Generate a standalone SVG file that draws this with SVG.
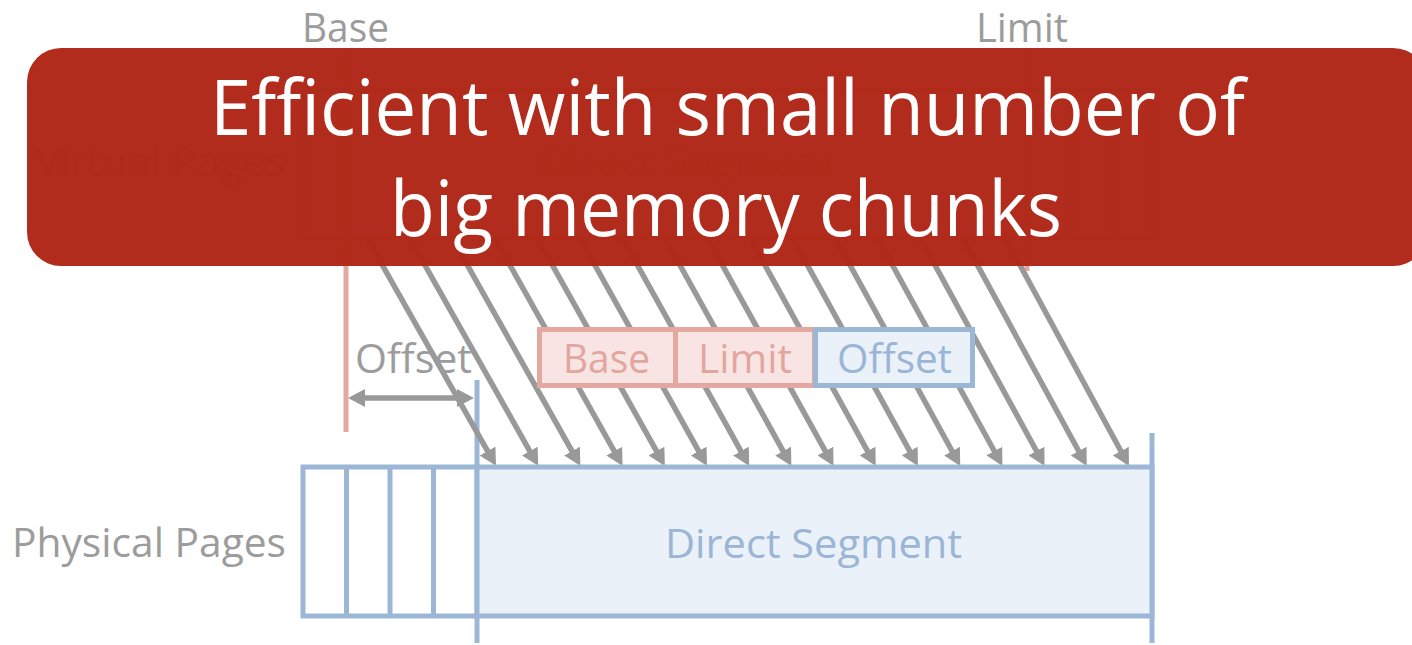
<svg xmlns="http://www.w3.org/2000/svg" width="1412" height="645" viewBox="0 0 1412 645">
  <style>
    text { font-family: "Open Sans", "Liberation Sans", sans-serif; }
    .lbl { fill: #9c9c9c; font-size: 40px; }
    .pinkTxt { fill: #e3a69f; font-size: 40px; }
    .blueTxt { fill: #9ab5d6; font-size: 40px; }
    .blue { stroke: #9cb7d6; stroke-width: 5; }
    .pink { stroke: #e4a8a1; stroke-width: 5; }
    .cell { fill: #ffffff; }
    .segBlue { fill: #eaf1f8; }
    .segPink { fill: #f8e4e3; }
    .map { stroke: #999999; stroke-width: 5.5; fill: none; marker-end: url(#head); }
    .banner { fill: #af2717; fill-opacity: 0.978; }
    .bannerTxt { fill: #ffffff; font-size: 76px; }
  </style>
  <defs>
    <marker id="head" markerUnits="userSpaceOnUse" markerWidth="18" markerHeight="18" refX="2" refY="9" orient="auto-start-reverse">
      <path d="M0,0 L17,9 L0,18 z" fill="#999999"/>
    </marker>
  </defs>

  <rect width="1412" height="645" fill="#ffffff"/>

  <!-- boundary labels -->
  <g id="base-label">
    <text class="lbl" x="302" y="42" textLength="87" lengthAdjust="spacingAndGlyphs">Base</text>
  </g>
  <g id="limit-label">
    <text class="lbl" x="976" y="42" textLength="92" lengthAdjust="spacingAndGlyphs">Limit</text>
  </g>

  <!-- virtual address space -->
  <g id="virtual-pages">
    <text class="lbl" x="35" y="176" textLength="250" lengthAdjust="spacingAndGlyphs">Virtual Pages</text>
    <rect class="cell blue" x="303" y="90" width="849" height="148"/>
    <rect class="segPink pink" x="346" y="90" width="681" height="148"/>
    <line class="blue" x1="1070" y1="90" x2="1070" y2="238"/>
    <line class="blue" x1="1113" y1="90" x2="1113" y2="238"/>
    <text class="pinkTxt" x="539" y="176" textLength="297" lengthAdjust="spacingAndGlyphs">Direct Segment</text>
  </g>

  <!-- segment boundaries -->
  <g id="boundaries">
    <line class="pink" x1="346" y1="52" x2="346" y2="432"/>
    <line class="pink" x1="1027" y1="52" x2="1027" y2="271"/>
    <line class="blue" x1="477" y1="380" x2="477" y2="643"/>
    <line class="blue" x1="1152" y1="433" x2="1152" y2="643"/>
  </g>

  <!-- page mappings -->
  <g id="connectors">
    <line class="map" x1="367.0" y1="238" x2="488.6" y2="452.8"/>
    <line class="map" x1="409.6" y1="238" x2="530.8" y2="452.8"/>
    <line class="map" x1="452.1" y1="238" x2="573.0" y2="452.8"/>
    <line class="map" x1="494.7" y1="238" x2="615.2" y2="452.8"/>
    <line class="map" x1="537.2" y1="238" x2="657.5" y2="452.8"/>
    <line class="map" x1="579.8" y1="238" x2="699.7" y2="452.8"/>
    <line class="map" x1="622.3" y1="238" x2="741.9" y2="452.8"/>
    <line class="map" x1="664.9" y1="238" x2="784.1" y2="452.8"/>
    <line class="map" x1="707.4" y1="238" x2="826.3" y2="452.8"/>
    <line class="map" x1="750.0" y1="238" x2="868.5" y2="452.8"/>
    <line class="map" x1="792.5" y1="238" x2="910.7" y2="452.8"/>
    <line class="map" x1="835.1" y1="238" x2="953.0" y2="452.8"/>
    <line class="map" x1="877.6" y1="238" x2="995.2" y2="452.8"/>
    <line class="map" x1="920.2" y1="238" x2="1037.4" y2="452.8"/>
    <line class="map" x1="962.7" y1="238" x2="1079.6" y2="452.8"/>
    <line class="map" x1="1005.3" y1="238" x2="1121.8" y2="452.8"/>
    <!-- offset span -->
    <line class="map" x1="363" y1="398" x2="459" y2="398" style="marker-start: url(#head)"/>
  </g>

  <g id="offset-label">
    <text class="lbl" x="355" y="373" textLength="117" lengthAdjust="spacingAndGlyphs">Offset</text>
  </g>

  <!-- segment registers -->
  <g id="register-base">
    <rect class="segPink pink" x="539.5" y="329.5" width="136" height="56"/>
    <text class="pinkTxt" x="563" y="373" textLength="87" lengthAdjust="spacingAndGlyphs">Base</text>
  </g>
  <g id="register-limit">
    <rect class="segPink pink" x="675.5" y="329.5" width="139" height="56"/>
    <text class="pinkTxt" x="698" y="373" textLength="94" lengthAdjust="spacingAndGlyphs">Limit</text>
  </g>
  <g id="register-offset">
    <rect class="segBlue blue" x="815.5" y="329.5" width="157" height="56"/>
    <text class="blueTxt" x="837" y="373" textLength="115" lengthAdjust="spacingAndGlyphs">Offset</text>
  </g>

  <!-- physical address space -->
  <g id="physical-pages">
    <text class="lbl" x="12" y="557" textLength="274" lengthAdjust="spacingAndGlyphs">Physical Pages</text>
    <rect class="cell blue" x="303" y="467" width="174" height="149"/>
    <line class="blue" x1="346.5" y1="467" x2="346.5" y2="616"/>
    <line class="blue" x1="390" y1="467" x2="390" y2="616"/>
    <line class="blue" x1="433.5" y1="467" x2="433.5" y2="616"/>
  </g>
  <g id="direct-segment">
    <rect class="segBlue blue" x="477" y="467" width="675" height="149"/>
    <text class="blueTxt" x="665" y="558" textLength="297" lengthAdjust="spacingAndGlyphs">Direct Segment</text>
  </g>

  <!-- callout -->
  <g id="callout">
    <rect class="banner" x="27" y="48" width="1400" height="218" rx="34" ry="34"/>
    <text class="bannerTxt" x="210" y="135" textLength="1035" lengthAdjust="spacingAndGlyphs">Efficient with small number of</text>
    <text class="bannerTxt" x="390" y="236" textLength="672" lengthAdjust="spacingAndGlyphs">big memory chunks</text>
  </g>
</svg>
